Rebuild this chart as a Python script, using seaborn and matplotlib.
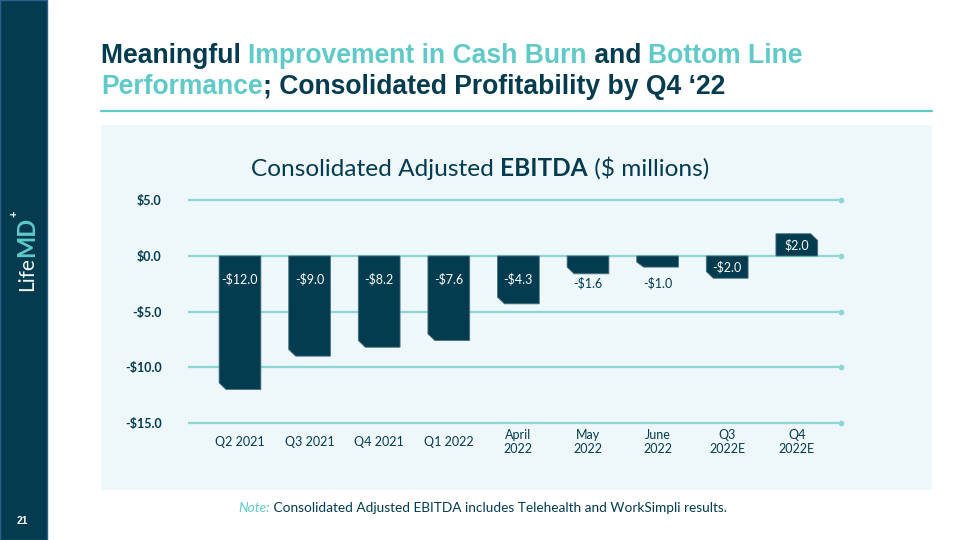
import matplotlib.pyplot as plt
import seaborn as sns
import pandas as pd
from matplotlib.patches import Rectangle, Polygon

# data
periods = ["Q2 2021", "Q3 2021", "Q4 2021", "Q1 2022", "April\n2022",
           "May\n2022", "June\n2022", "Q3\n2022E", "Q4\n2022E"]
ebitda = [-12.0, -9.0, -8.2, -7.6, -4.3, -1.6, -1.0, -2.0, 2.0]
y_ticks = [-15, -10, -5, 0, 5]

NAVY = "#033b4f"
TEAL = "#5fcac7"
GRID = "#8ad7d5"
PANEL = "#eef7f9"


def rich(ax, parts, xy, **kw):
    # chain text pieces left to right on one baseline (figure pixels)
    prev = None
    for s, style in parts:
        opts = dict(kw)
        opts.update(style)
        if prev is None:
            t = ax.annotate(s, xy=xy, xycoords="figure pixels",
                            ha="left", va="baseline", **opts)
        else:
            t = ax.annotate(s, xy=(1, xy[1]), xycoords=(prev, "figure pixels"),
                            ha="left", va="baseline", **opts)
        prev = t
    return prev


def chamfer_bars(ax, dx=0.1, dy=0.6):
    for p in list(ax.patches):
        x0, y0 = p.get_x(), p.get_y()
        w, h = p.get_width(), p.get_height()
        y1 = y0 + h
        d = min(dy, abs(h) * 0.45)
        if h < 0:
            pts = [(x0, y0), (x0 + w, y0), (x0 + w, y1), (x0 + dx, y1), (x0, y1 + d)]
        else:
            pts = [(x0, y0), (x0 + w, y0), (x0 + w, y1 - d), (x0 + w - dx, y1), (x0, y1)]
        ax.add_patch(Polygon(pts, closed=True, facecolor=NAVY,
                             edgecolor="#4d7383", linewidth=0.6, zorder=2))
        p.set_visible(False)


df = pd.DataFrame({"period": periods, "ebitda": ebitda})

sns.set_theme(style="white")
plt.rcParams["font.family"] = ["Lato", "DejaVu Sans"]

fig = plt.figure(figsize=(9.6, 5.4), dpi=100)
fig.patch.set_facecolor("white")

# background layer: sidebar, panel, title
bg = fig.add_axes([0, 0, 1, 1])
bg.set_xlim(0, 960)
bg.set_ylim(540, 0)
bg.axis("off")
bg.add_patch(Rectangle((0, 0), 47, 540, facecolor="#043b4f",
                       edgecolor="#2f5f8f", linewidth=1))
bg.add_patch(Rectangle((101, 125), 831, 365, facecolor=PANEL, edgecolor="none"))
bg.plot([101, 932], [111, 111], color=TEAL, lw=1.6)

title_font = dict(fontfamily="Liberation Sans", fontweight="bold", fontsize=19.1)
rich(bg, [("Meaningful ", {"color": NAVY}),
          ("Improvement in Cash Burn", {"color": TEAL}),
          (" and ", {"color": NAVY}),
          ("Bottom Line", {"color": TEAL})],
     (101, 540 - 63), **title_font)
rich(bg, [("Performance", {"color": TEAL}),
          ("; Consolidated Profitability by Q4 \u201822", {"color": NAVY})],
     (101, 540 - 94), **title_font)

rich(bg, [("Consolidated Adjusted ", {}),
          ("EBITDA", {"fontweight": "bold"}),
          (" ($ millions)", {})],
     (251, 540 - 176), color=NAVY, fontsize=17.6)

rich(bg, [("Note:", {"color": TEAL, "fontstyle": "italic"}),
          (" Consolidated Adjusted EBITDA includes Telehealth and WorkSimpli results.",
           {"color": NAVY})],
     (238, 540 - 512), fontsize=9.8)

# sidebar logo and page number
life = bg.annotate("Life", xy=(27, 540 - 291), xycoords="figure pixels",
                   rotation=90, ha="center", va="bottom", color="#f2f8fa",
                   fontsize=15)
md = bg.annotate("MD", xy=(27, 1), xycoords=("figure pixels", life),
                 rotation=90, ha="center", va="bottom", color=TEAL,
                 fontsize=17, fontweight="bold")
bg.annotate("+", xy=(14, 1.0), xycoords=("figure pixels", md),
            rotation=90, ha="center", va="bottom", color="white",
            fontsize=8, fontweight="bold")
bg.text(22, 521, "21", color="white", fontsize=7.5, fontweight="bold",
        ha="center", va="center", fontfamily="Liberation Sans")

# chart
ax = fig.add_axes([188 / 960, 0.2106, (841 - 188) / 960, 0.4246])
ax.set_facecolor("none")
sns.barplot(data=df, x="period", y="ebitda", color=NAVY, saturation=1,
            width=0.6, ax=ax)
chamfer_bars(ax)

ax.set_xlim(-0.747, 8.635)
ax.set_ylim(-15.3, 5.3)
ax.set_yticks(y_ticks)
ax.set_yticklabels([("-" if v < 0 else "") + f"${abs(v):.1f}" for v in y_ticks])
ax.grid(axis="y", color=GRID, linewidth=1.6)
ax.grid(axis="x", visible=False)
ax.set_axisbelow(True)
ax.scatter([ax.get_xlim()[1]] * len(y_ticks), y_ticks, s=9, color=GRID,
           clip_on=False, zorder=3)
for s in ax.spines.values():
    s.set_visible(False)
ax.set_xlabel("")
ax.set_ylabel("")
ax.tick_params(axis="y", length=0, pad=19, labelsize=9, labelcolor=NAVY)
ax.tick_params(axis="x", length=0, pad=11.5, labelsize=9, labelcolor=NAVY)
for lab in ax.get_yticklabels():
    lab.set_fontweight("bold")
for lab in ax.get_xticklabels():
    lab.set_va("center")
    lab.set_multialignment("center")

# value labels
for i, v in enumerate(ebitda):
    txt = ("-" if v < 0 else "") + f"${abs(v):.1f}"
    if abs(v) >= 2:
        ypos = (1 if v > 0 else -1) * min(abs(v) / 2, 2.05)
        col = "white"
    else:
        ypos = -2.45
        col = NAVY
    ax.text(i, ypos, txt, ha="center", va="center", fontsize=9, color=col, zorder=4)

fig.savefig("out.png", dpi=100)
